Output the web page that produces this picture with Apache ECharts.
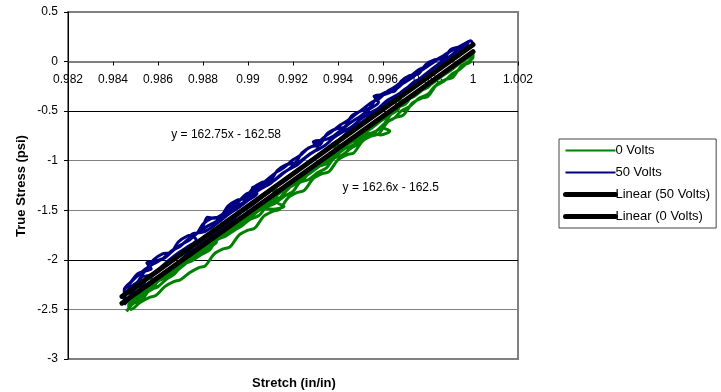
<!DOCTYPE html>
<html>
<head>
<meta charset="utf-8">
<script src="https://cdn.jsdelivr.net/npm/echarts@6/dist/echarts.min.js"></script>
<style>
  html, body { margin: 0; padding: 0; background: #fff; }
  #chart { width: 721px; height: 392px; }
</style>
</head>
<body>
<div id="chart"></div>
<script>
// 0 Volts: several load/unload passes
const volts0 = [
  [0.9846,-2.52],[0.9849,-2.44],[0.9853,-2.40],[0.9856,-2.31],[0.9860,-2.27],[0.9864,-2.19],[0.9867,-2.15],[0.9871,-2.05],
  [0.9875,-2.01],[0.9879,-1.95],[0.9883,-1.90],[0.9886,-1.80],[0.9890,-1.76],[0.9894,-1.70],[0.9897,-1.66],[0.9901,-1.59],
  [0.9905,-1.55],[0.9908,-1.47],[0.9912,-1.43],[0.9916,-1.36],[0.9920,-1.31],[0.9923,-1.22],[0.9927,-1.19],[0.9931,-1.12],
  [0.9935,-1.07],[0.9938,-0.98],[0.9942,-0.94],[0.9946,-0.87],[0.9950,-0.82],[0.9953,-0.74],[0.9957,-0.70],[0.9961,-0.62],
  [0.9965,-0.57],[0.9968,-0.50],[0.9972,-0.45],[0.9976,-0.37],[0.9980,-0.33],[0.9983,-0.25],[0.9987,-0.20],[0.9991,-0.12],
  [0.9994,-0.08],[0.9998,0.00],[1.0000,0.04],
  [1.0000,0.08],[0.9996,0.02],[0.9993,-0.01],[0.9989,-0.09],[0.9986,-0.13],[0.9983,-0.18],[0.9980,-0.26],[0.9976,-0.30],
  [0.9973,-0.34],[0.9970,-0.43],[0.9966,-0.47],[0.9962,-0.58],[0.9960,-0.66],[0.9963,-0.70],[0.9959,-0.74],[0.9955,-0.72],
  [0.9951,-0.76],[0.9947,-0.84],[0.9943,-0.88],[0.9939,-0.95],[0.9935,-1.03],[0.9931,-1.06],[0.9927,-1.13],[0.9924,-1.20],
  [0.9920,-1.24],[0.9916,-1.33],[0.9913,-1.42],[0.9916,-1.46],[0.9911,-1.49],[0.9907,-1.48],[0.9903,-1.53],[0.9899,-1.60],
  [0.9895,-1.64],[0.9891,-1.72],[0.9887,-1.77],[0.9883,-1.84],[0.9879,-1.90],[0.9875,-1.97],[0.9871,-2.03],[0.9867,-2.10],
  [0.9863,-2.14],[0.9859,-2.24],[0.9856,-2.29],[0.9852,-2.35],[0.9849,-2.41],[0.9847,-2.47],
  [0.9847,-2.45],[0.9851,-2.37],[0.9855,-2.31],[0.9858,-2.24],[0.9862,-2.19],[0.9866,-2.12],[0.9870,-2.05],[0.9873,-2.00],
  [0.9877,-1.92],[0.9881,-1.86],[0.9885,-1.81],[0.9889,-1.73],[0.9892,-1.68],[0.9896,-1.61],[0.9900,-1.56],[0.9904,-1.49],
  [0.9908,-1.42],[0.9911,-1.38],[0.9915,-1.31],[0.9919,-1.25],[0.9923,-1.18],[0.9927,-1.12],[0.9930,-1.07],[0.9934,-0.99],
  [0.9938,-0.94],[0.9942,-0.86],[0.9946,-0.81],[0.9949,-0.75],[0.9953,-0.68],[0.9957,-0.62],[0.9961,-0.56],[0.9965,-0.50],
  [0.9968,-0.44],[0.9972,-0.37],[0.9976,-0.31],[0.9980,-0.24],[0.9984,-0.18],[0.9987,-0.12],[0.9991,-0.05],[0.9995,0.01],
  [0.9999,0.08],
  [0.9999,0.00],[0.9995,-0.04],[0.9991,-0.16],[0.9988,-0.18],[0.9984,-0.23],[0.9980,-0.35],[0.9977,-0.37],[0.9973,-0.42],
  [0.9969,-0.54],[0.9966,-0.56],[0.9962,-0.61],[0.9958,-0.73],[0.9955,-0.75],[0.9951,-0.80],[0.9947,-0.92],[0.9944,-0.94],
  [0.9940,-0.99],[0.9936,-1.11],[0.9933,-1.13],[0.9929,-1.18],[0.9925,-1.30],[0.9922,-1.32],[0.9918,-1.37],[0.9914,-1.49],
  [0.9911,-1.51],[0.9907,-1.56],[0.9903,-1.68],[0.9900,-1.70],[0.9896,-1.75],[0.9892,-1.87],[0.9889,-1.89],[0.9885,-1.94],
  [0.9881,-2.06],[0.9878,-2.08],[0.9874,-2.13],[0.9870,-2.20],[0.9867,-2.22],[0.9863,-2.27],[0.9859,-2.36],[0.9856,-2.38],
  [0.9852,-2.43],[0.9848,-2.50],
  [0.9847,-2.47],[0.9851,-2.39],[0.9855,-2.33],[0.9859,-2.26],[0.9857,-2.20],[0.9862,-2.19],[0.9866,-2.15],[0.9870,-2.08],
  [0.9874,-2.01],[0.9878,-1.95],[0.9882,-1.88],[0.9886,-1.82],[0.9884,-1.75],[0.9889,-1.74],[0.9893,-1.70],[0.9897,-1.63],
  [0.9901,-1.57],[0.9905,-1.50],[0.9909,-1.44],[0.9913,-1.37],[0.9911,-1.30],[0.9916,-1.29],[0.9920,-1.25],[0.9924,-1.18],
  [0.9928,-1.12],[0.9932,-1.05],[0.9936,-0.99],[0.9940,-0.92],[0.9938,-0.85],[0.9943,-0.84],[0.9947,-0.80],[0.9951,-0.73],
  [0.9955,-0.67],[0.9959,-0.60],[0.9963,-0.54],[0.9967,-0.47],[0.9965,-0.40],[0.9970,-0.39],[0.9974,-0.35],[0.9978,-0.28],
  [0.9982,-0.22],[0.9986,-0.15],[0.9990,-0.09],[0.9994,-0.02],[0.9998,0.04]
]

// 50 Volts: several load/unload passes
const volts50 = [
  [0.9845,-2.36],[0.9848,-2.27],[0.9851,-2.22],[0.9854,-2.12],[0.9857,-2.09],[0.9855,-2.03],[0.9859,-2.01],[0.9863,-1.98],
  [0.9867,-1.90],[0.9870,-1.86],[0.9873,-1.80],[0.9877,-1.74],[0.9880,-1.66],[0.9882,-1.57],[0.9885,-1.58],[0.9888,-1.55],
  [0.9892,-1.47],[0.9895,-1.43],[0.9899,-1.34],[0.9902,-1.31],[0.9906,-1.24],[0.9909,-1.18],[0.9913,-1.11],[0.9916,-1.07],
  [0.9920,-0.99],[0.9923,-0.95],[0.9927,-0.87],[0.9930,-0.84],[0.9934,-0.76],[0.9937,-0.71],[0.9941,-0.64],[0.9944,-0.60],
  [0.9948,-0.53],[0.9951,-0.48],[0.9955,-0.41],[0.9958,-0.38],[0.9962,-0.30],[0.9965,-0.26],[0.9969,-0.19],[0.9972,-0.15],
  [0.9976,-0.08],[0.9979,-0.05],[0.9983,0.01],[0.9987,0.06],[0.9991,0.12],[0.9995,0.16],[0.9999,0.21],
  [1.0000,0.17],[0.9997,0.14],[0.9993,0.09],[0.9990,0.02],[0.9986,-0.03],[0.9982,-0.09],[0.9978,-0.16],[0.9974,-0.20],
  [0.9970,-0.28],[0.9966,-0.34],[0.9962,-0.39],[0.9958,-0.47],[0.9954,-0.52],[0.9950,-0.58],[0.9946,-0.66],[0.9942,-0.71],
  [0.9938,-0.77],[0.9934,-0.85],[0.9930,-0.90],[0.9926,-0.96],[0.9922,-1.04],[0.9918,-1.09],[0.9914,-1.15],[0.9910,-1.23],
  [0.9906,-1.28],[0.9902,-1.34],[0.9898,-1.42],[0.9894,-1.47],[0.9890,-1.53],[0.9886,-1.61],[0.9882,-1.66],[0.9878,-1.72],
  [0.9874,-1.80],[0.9870,-1.85],[0.9866,-1.91],[0.9862,-1.99],[0.9858,-2.04],[0.9854,-2.10],[0.9850,-2.18],[0.9847,-2.25],
  [0.9845,-2.31],
  [0.9845,-2.45],[0.9849,-2.36],[0.9853,-2.30],[0.9857,-2.24],[0.9861,-2.16],[0.9865,-2.09],[0.9869,-2.03],[0.9873,-1.94],
  [0.9877,-1.88],[0.9881,-1.81],[0.9885,-1.74],[0.9889,-1.67],[0.9893,-1.60],[0.9897,-1.52],[0.9901,-1.46],[0.9905,-1.39],
  [0.9909,-1.32],[0.9913,-1.25],[0.9917,-1.19],[0.9921,-1.11],[0.9925,-1.05],[0.9929,-0.98],[0.9933,-0.91],[0.9937,-0.84],
  [0.9941,-0.78],[0.9945,-0.70],[0.9949,-0.64],[0.9953,-0.57],[0.9957,-0.50],[0.9961,-0.43],[0.9965,-0.37],[0.9969,-0.29],
  [0.9973,-0.23],[0.9977,-0.16],[0.9981,-0.09],[0.9985,-0.02],[0.9989,0.04],[0.9993,0.11],[0.9997,0.16],
  [0.9998,0.20],[0.9994,0.15],[0.9990,0.12],[0.9987,0.03],[0.9983,0.02],[0.9979,-0.03],[0.9976,-0.12],[0.9972,-0.14],
  [0.9968,-0.20],[0.9965,-0.30],[0.9961,-0.31],[0.9957,-0.37],[0.9954,-0.47],[0.9950,-0.50],[0.9946,-0.55],[0.9943,-0.66],
  [0.9939,-0.68],[0.9935,-0.73],[0.9932,-0.84],[0.9928,-0.86],[0.9924,-0.92],[0.9921,-1.02],[0.9917,-1.04],[0.9913,-1.10],
  [0.9910,-1.20],[0.9906,-1.22],[0.9902,-1.28],[0.9899,-1.38],[0.9895,-1.40],[0.9891,-1.46],[0.9888,-1.56],[0.9884,-1.58],
  [0.9880,-1.64],[0.9877,-1.74],[0.9873,-1.76],[0.9869,-1.82],[0.9866,-1.92],[0.9862,-1.94],[0.9858,-2.00],[0.9855,-2.10],
  [0.9851,-2.14],[0.9848,-2.22],[0.9845,-2.30],
  [0.9846,-2.40],[0.9850,-2.29],[0.9854,-2.23],[0.9852,-2.18],[0.9857,-2.15],[0.9861,-2.08],[0.9865,-2.00],[0.9869,-1.93],
  [0.9873,-1.87],[0.9877,-1.80],[0.9875,-1.74],[0.9880,-1.72],[0.9884,-1.67],[0.9888,-1.60],[0.9892,-1.53],[0.9896,-1.47],
  [0.9900,-1.40],[0.9904,-1.33],[0.9902,-1.27],[0.9907,-1.25],[0.9911,-1.21],[0.9915,-1.14],[0.9919,-1.07],[0.9923,-1.01],
  [0.9927,-0.94],[0.9931,-0.87],[0.9929,-0.81],[0.9934,-0.79],[0.9938,-0.75],[0.9942,-0.68],[0.9946,-0.61],[0.9950,-0.55],
  [0.9954,-0.48],[0.9958,-0.41],[0.9956,-0.35],[0.9961,-0.33],[0.9965,-0.29],[0.9969,-0.22],[0.9973,-0.16],[0.9977,-0.09],
  [0.9981,-0.03],[0.9985,0.03],[0.9989,0.09],[0.9993,0.14],[0.9997,0.19]
]

// trendline end points (from the printed equations)
const linear50 = [[0.9844,-2.369],[1.0,0.17]]
const linear0 = [[0.9844,-2.437],[1.0,0.10]]

const seriesNames = ['0 Volts', '50 Volts', 'Linear (50 Volts)', 'Linear (0 Volts)']
const equations = ['y = 162.75x - 162.58', 'y = 162.6x - 162.5']

const font = "'Liberation Sans', Arial, sans-serif"

const chart = echarts.init(document.getElementById('chart'))

chart.setOption({
  animation: false,
  backgroundColor: '#fff',
  grid: {
    left: 68,
    top: 12,
    right: 203,
    bottom: 33,
    show: true,
    borderColor: '#808080',
    borderWidth: 2,
  },
  xAxis: {
    type: 'value',
    min: 0.982,
    max: 1.002,
    interval: 0.002,
    // axis crosses at y = 0, which sits 297.5px above the plot bottom
    offset: -297.5,
    axisLine: { onZero: false, lineStyle: { color: '#808080', width: 2 } },
    axisTick: { show: true, length: 4, lineStyle: { color: '#000' } },
    axisLabel: { margin: 12, fontSize: 12, color: '#000', fontFamily: font, showMinLabel: true, showMaxLabel: true },
    splitLine: { show: false },
  },
  yAxis: {
    type: 'value',
    min: -3,
    max: 0.5,
    interval: 0.5,
    axisLine: { show: true, lineStyle: { color: '#000', width: 1 } },
    axisTick: { show: true, length: 4, lineStyle: { color: '#000' } },
    axisLabel: { margin: 10, fontSize: 12, color: '#000', fontFamily: font },
    splitLine: {
      show: true,
      lineStyle: { color: ['#808080', '#808080', '#000', '#808080', '#808080', '#000', '#808080', '#808080'], width: 1 },
    },
  },
  legend: {
    orient: 'vertical',
    left: 559,
    top: 139,
    padding: [5, 6, 5, 4],
    itemWidth: 50,
    itemHeight: 14,
    itemGap: 9,
    borderColor: '#444',
    borderWidth: 1,
    itemStyle: { opacity: 0 },
    textStyle: { fontSize: 13, color: '#000', fontFamily: font, padding: [0, 0, 0, -5] },
    data: [
      { name: seriesNames[0], lineStyle: { width: 2 } },
      { name: seriesNames[1], lineStyle: { width: 2 } },
      { name: seriesNames[2], lineStyle: { width: 5, cap: 'round' } },
      { name: seriesNames[3], lineStyle: { width: 5, cap: 'round' } },
    ],
  },
  graphic: [
    {
      type: 'text', position: [294, 383],
      style: { text: 'Stretch (in/in)', font: "bold 13px 'Liberation Sans', Arial, sans-serif", fill: '#000', textAlign: 'center', textVerticalAlign: 'middle' },
    },
    {
      type: 'text', position: [21, 186], rotation: Math.PI / 2,
      style: { text: 'True Stress (psi)', font: "bold 13px 'Liberation Sans', Arial, sans-serif", fill: '#000', textAlign: 'center', textVerticalAlign: 'middle' },
    },
    {
      type: 'text', position: [281, 135],
      style: { text: equations[0], font: "12px 'Liberation Sans', Arial, sans-serif", fill: '#000', textAlign: 'right', textVerticalAlign: 'middle' },
    },
    {
      type: 'text', position: [439, 188],
      style: { text: equations[1], font: "12px 'Liberation Sans', Arial, sans-serif", fill: '#000', textAlign: 'right', textVerticalAlign: 'middle' },
    },
  ],
  series: [
    {
      name: seriesNames[0],
      type: 'line',
      data: volts0,
      symbol: 'none',
      smooth: 0.3,
      lineStyle: { color: '#008000', width: 3 },
      itemStyle: { color: '#008000' },
    },
    {
      name: seriesNames[1],
      type: 'line',
      data: volts50,
      symbol: 'none',
      smooth: 0.3,
      lineStyle: { color: '#000080', width: 3 },
      itemStyle: { color: '#000080' },
    },
    {
      name: seriesNames[2],
      type: 'line',
      data: linear50,
      symbol: 'none',
      lineStyle: { color: '#000', width: 5, cap: 'round' },
      itemStyle: { color: '#000' },
    },
    {
      name: seriesNames[3],
      type: 'line',
      data: linear0,
      symbol: 'none',
      lineStyle: { color: '#000', width: 5, cap: 'round' },
      itemStyle: { color: '#000' },
    },
  ],
})
</script>
</body>
</html>
